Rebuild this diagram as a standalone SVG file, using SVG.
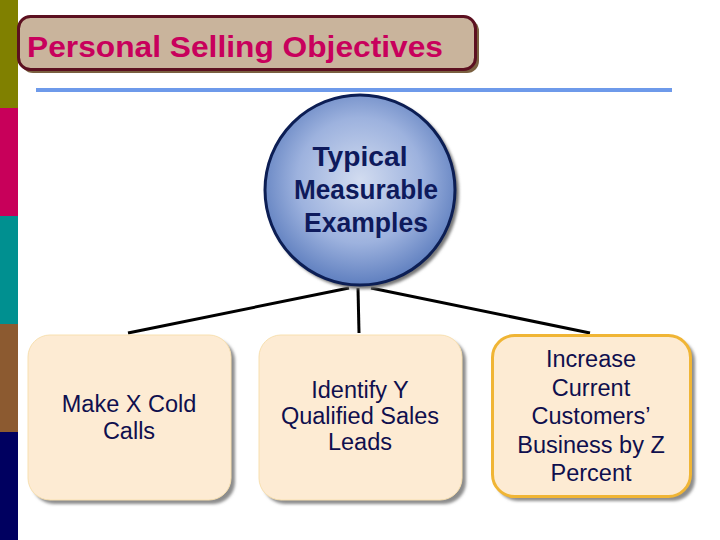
<svg xmlns="http://www.w3.org/2000/svg" width="720" height="540" viewBox="0 0 720 540">
<defs>
<radialGradient id="cg" cx="50%" cy="45%" r="55%">
<stop offset="0" stop-color="#d2dcf0"/>
<stop offset="0.6" stop-color="#9db2de"/>
<stop offset="1" stop-color="#5f7fbf"/>
</radialGradient>
<filter id="sh" x="-10%" y="-10%" width="130%" height="130%">
<feGaussianBlur stdDeviation="1.5"/>
</filter>
<style>
.t{font-family:"Liberation Sans",Arial,sans-serif;text-anchor:middle}
.bx{font-size:23.5px;fill:#0f0f4e}
.cx{font-size:27px;font-weight:bold;fill:#0e1a5c}
.conn{stroke:#000;stroke-width:3;fill:none}
.box{fill:#fdebd3}
.shd{fill:#8c8c8c;filter:url(#sh)}
</style>
</defs>
<rect width="720" height="540" fill="#fff"/>
<g id="sidebar">
<rect x="0" y="0" width="18" height="108" fill="#808000"/>
<rect x="0" y="108" width="18" height="108" fill="#c8005a"/>
<rect x="0" y="216" width="18" height="108" fill="#009090"/>
<rect x="0" y="324" width="18" height="108" fill="#8c5a30"/>
<rect x="0" y="432" width="18" height="108" fill="#000060"/>
</g>
<g id="title">
<rect x="21" y="19" width="458" height="54" rx="12" fill="#7a6040"/>
<rect x="18.5" y="16.5" width="457" height="53" rx="12" fill="#c9b49c" stroke="#5c1020" stroke-width="3"/>
<text x="27" y="57" font-family="Liberation Sans, Arial, sans-serif" font-size="29" font-weight="bold" fill="#c8005c" textLength="416" lengthAdjust="spacingAndGlyphs">Personal Selling Objectives</text>
</g>
<rect id="rule" x="36" y="88" width="636" height="4" fill="#6e9aea"/>
<g id="connectors">
<line class="conn" x1="349" y1="288" x2="128" y2="333"/>
<line class="conn" x1="358" y1="288" x2="359" y2="333"/>
<line class="conn" x1="371" y1="288" x2="590" y2="333"/>
</g>
<g id="center">
<circle cx="363" cy="193" r="96" fill="#777" filter="url(#sh)"/>
<circle cx="360" cy="190" r="95" fill="url(#cg)" stroke="#0c1e54" stroke-width="3"/>
<text class="t cx" x="360" y="166" textLength="95" lengthAdjust="spacingAndGlyphs">Typical</text>
<text class="t cx" x="366" y="199" textLength="144" lengthAdjust="spacingAndGlyphs">Measurable</text>
<text class="t cx" x="366" y="232" textLength="124" lengthAdjust="spacingAndGlyphs">Examples</text>
</g>
<g id="box1">
<rect class="shd" x="32" y="339" width="203" height="165" rx="22"/>
<rect class="box" x="28" y="335" width="203" height="165" rx="22" stroke="#f8e0b0" stroke-width="1"/>
<text class="t bx" x="129" y="412">Make X Cold</text>
<text class="t bx" x="129" y="439">Calls</text>
</g>
<g id="box2">
<rect class="shd" x="263" y="339" width="203" height="165" rx="22"/>
<rect class="box" x="259" y="335" width="203" height="165" rx="22" stroke="#f8e0b0" stroke-width="1"/>
<text class="t bx" x="360" y="398">Identify Y</text>
<text class="t bx" x="360" y="424">Qualified Sales</text>
<text class="t bx" x="360" y="450">Leads</text>
</g>
<g id="box3">
<rect class="shd" x="496" y="339" width="199" height="162" rx="22"/>
<rect class="box" x="492.5" y="335.5" width="198" height="161" rx="22" stroke="#f0b535" stroke-width="3"/>
<text class="t bx" x="591" y="367">Increase</text>
<text class="t bx" x="591" y="396">Current</text>
<text class="t bx" x="591" y="424">Customers’</text>
<text class="t bx" x="591" y="453">Business by Z</text>
<text class="t bx" x="591" y="481">Percent</text>
</g>
</svg>
